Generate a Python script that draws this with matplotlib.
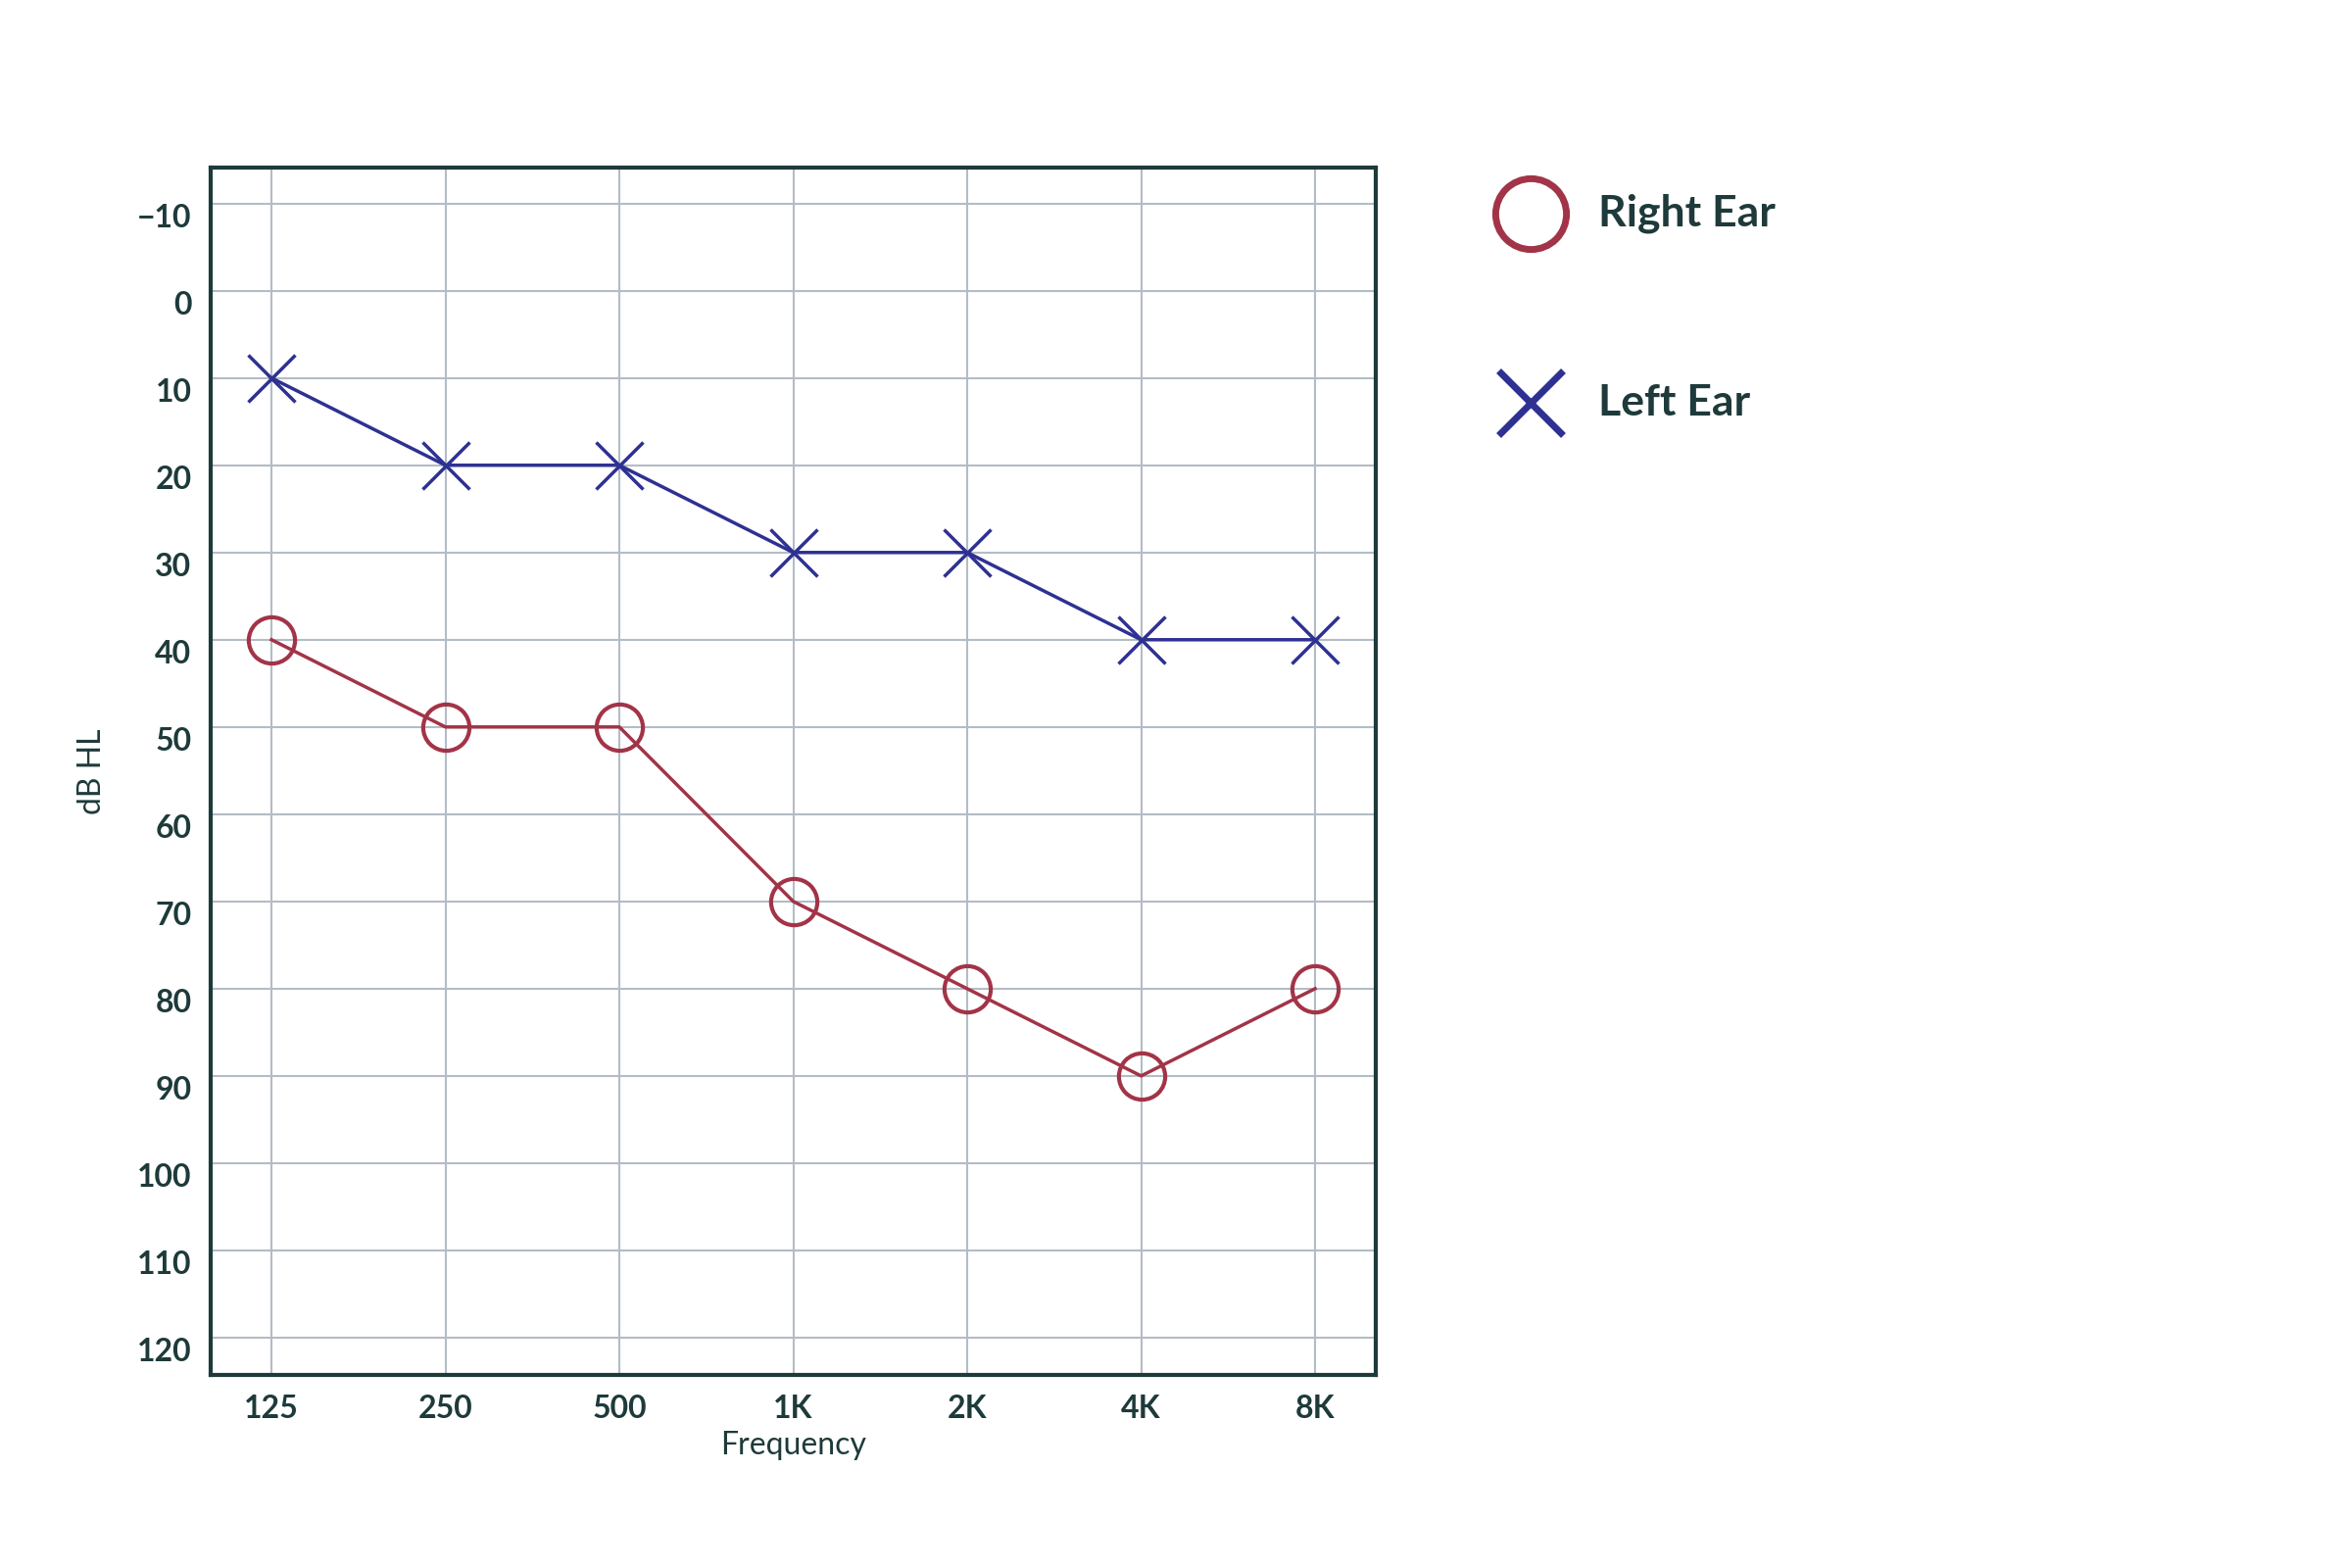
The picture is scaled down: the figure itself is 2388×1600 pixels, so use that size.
import matplotlib.pyplot as plt
from matplotlib.lines import Line2D

freqs = ['125', '250', '500', '1K', '2K', '4K', '8K']
right_ear = [40, 50, 50, 70, 80, 90, 80]
left_ear = [10, 20, 20, 30, 30, 40, 40]
db_ticks = list(range(-10, 121, 10))

red = '#a23447'
blue = '#2e3192'
ink = '#1e3a3a'

plt.rcParams['font.family'] = ['Lato', 'DejaVu Sans']
plt.rcParams['font.weight'] = 'bold'

fig = plt.figure(figsize=(23.88, 16), dpi=100, facecolor='white')
ax = fig.add_axes([0.090, 0.123, 0.498, 0.770])

x = range(len(freqs))
ax.plot(x, right_ear, color=red, lw=2.5, marker='o', ms=34, mfc='none', mec=red, mew=3)
ax.plot(x, left_ear, color=blue, lw=2.5, marker='x', ms=34, mec=blue, mew=2.5)

ax.set_xlim(-0.35, 6.35)
ax.set_ylim(124.3, -14.1)
ax.set_xticks(list(x))
ax.set_xticklabels(freqs)
ax.set_yticks(db_ticks)
ax.grid(True, color='#b3bcc6', lw=1.5)
ax.set_axisbelow(True)
ax.tick_params(axis='both', length=0, labelsize=23, labelcolor=ink, pad=14)
for lab in ax.get_yticklabels():
    lab.set_va('top')
for s in ax.spines.values():
    s.set_color(ink)
    s.set_linewidth(3)
ax.set_xlabel('Frequency', fontsize=23, color=ink, labelpad=6)
ax.set_ylabel('dB HL', fontsize=23, color=ink, labelpad=22)

# legend drawn by hand on the figure
fig.add_artist(Line2D([0.654], [0.864], transform=fig.transFigure, marker='o', ms=52,
                      mfc='none', mec=red, mew=5))
fig.add_artist(Line2D([0.654], [0.743], transform=fig.transFigure, marker='x', ms=48,
                      mec=blue, mew=5))
fig.text(0.683, 0.864, 'Right Ear', fontsize=32, color=ink, va='center')
fig.text(0.683, 0.743, 'Left Ear', fontsize=32, color=ink, va='center')

fig.savefig('out.png', dpi=100, facecolor='white')
